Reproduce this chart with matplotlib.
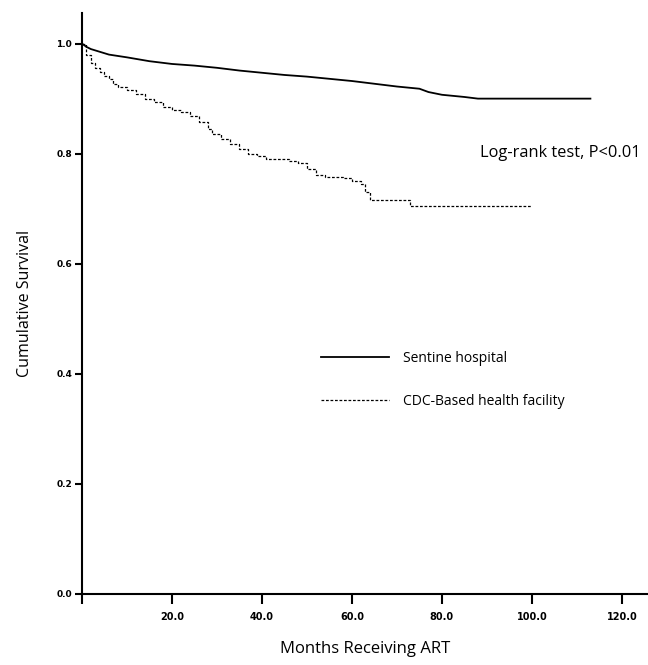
import matplotlib
matplotlib.use("Agg")
import matplotlib.pyplot as plt

# Kaplan-Meier estimates
sentinel_t = [0, 1, 2, 4, 6, 10, 15, 20, 25, 30, 35, 40, 45, 50, 55, 60, 65,
              70, 75, 77, 80, 85, 88, 113]
sentinel_s = [1.0, 0.994, 0.99, 0.985, 0.98, 0.975, 0.968, 0.963, 0.96, 0.956,
              0.951, 0.947, 0.943, 0.94, 0.936, 0.932, 0.927, 0.922, 0.918,
              0.912, 0.907, 0.903, 0.90, 0.90]

cdc_t = [0, 1, 2, 3, 4, 5, 6, 7, 8, 10, 12, 14, 16, 18, 20, 22, 24, 26, 28,
         29, 31, 33, 35, 37, 39, 41, 46, 48, 50, 52, 54, 58, 60, 62, 63, 64,
         73, 100]
cdc_s = [1.0, 0.98, 0.965, 0.955, 0.948, 0.942, 0.935, 0.927, 0.921, 0.915,
         0.908, 0.9, 0.893, 0.885, 0.88, 0.876, 0.868, 0.858, 0.845, 0.835,
         0.826, 0.818, 0.808, 0.8, 0.795, 0.79, 0.787, 0.783, 0.772, 0.762,
         0.757, 0.755, 0.75, 0.745, 0.73, 0.716, 0.705, 0.705]

xticks = [0, 20, 40, 60, 80, 100, 120]
xticklabels = ['', '20.0', '40.0', '60.0', '80.0', '100.0', '120.0']
yticks = [0.0, 0.2, 0.4, 0.6, 0.8, 1.0]

fig = plt.figure(figsize=(6.48, 6.65), dpi=100)
ax = fig.add_axes([0.1265, 0.1068, 0.8735, 0.874])

# many events in the sentinel group -> curve looks smooth
ax.plot(sentinel_t, sentinel_s, color='black', lw=1.3,
        label='Sentine hospital')
ax.plot(cdc_t, cdc_s, color='black', lw=0.9, ls=(0, (2.2, 1.4)),
        drawstyle='steps-post', label='CDC-Based health facility')

ax.set_xlim(0, 125.8)
ax.set_ylim(0, 1.056)
ax.set_xticks(xticks)
ax.set_xticklabels(xticklabels, fontsize=7, fontweight='bold')
ax.set_yticks(yticks)
ax.set_yticklabels(['%.1f' % v for v in yticks], fontsize=6.5, fontweight='bold')
ax.tick_params(axis='x', length=7, width=1.5, direction='out', pad=6)
ax.tick_params(axis='y', length=5, width=1.5, direction='out', pad=2)

for s in ['top', 'right']:
    ax.spines[s].set_visible(False)
for s in ['left', 'bottom']:
    ax.spines[s].set_linewidth(1.5)

ax.set_xlabel('Months Receiving ART', fontsize=12, family='Open Sans', labelpad=14)
ax.set_ylabel('Cumulative Survival', fontsize=11.5, family='Open Sans', labelpad=17)

ax.text(0.703, 0.759, 'Log-rank test, P<0.01', transform=ax.transAxes,
        fontsize=11.8, family='Open Sans', va='center', ha='left')

ax.legend(loc='upper left', bbox_to_anchor=(0.40, 0.44), frameon=False,
          handlelength=4.9, handletextpad=1.0, labelspacing=2.0,
          prop={'family': 'Open Sans', 'size': 10})

fig.savefig('out.png', dpi=100)
